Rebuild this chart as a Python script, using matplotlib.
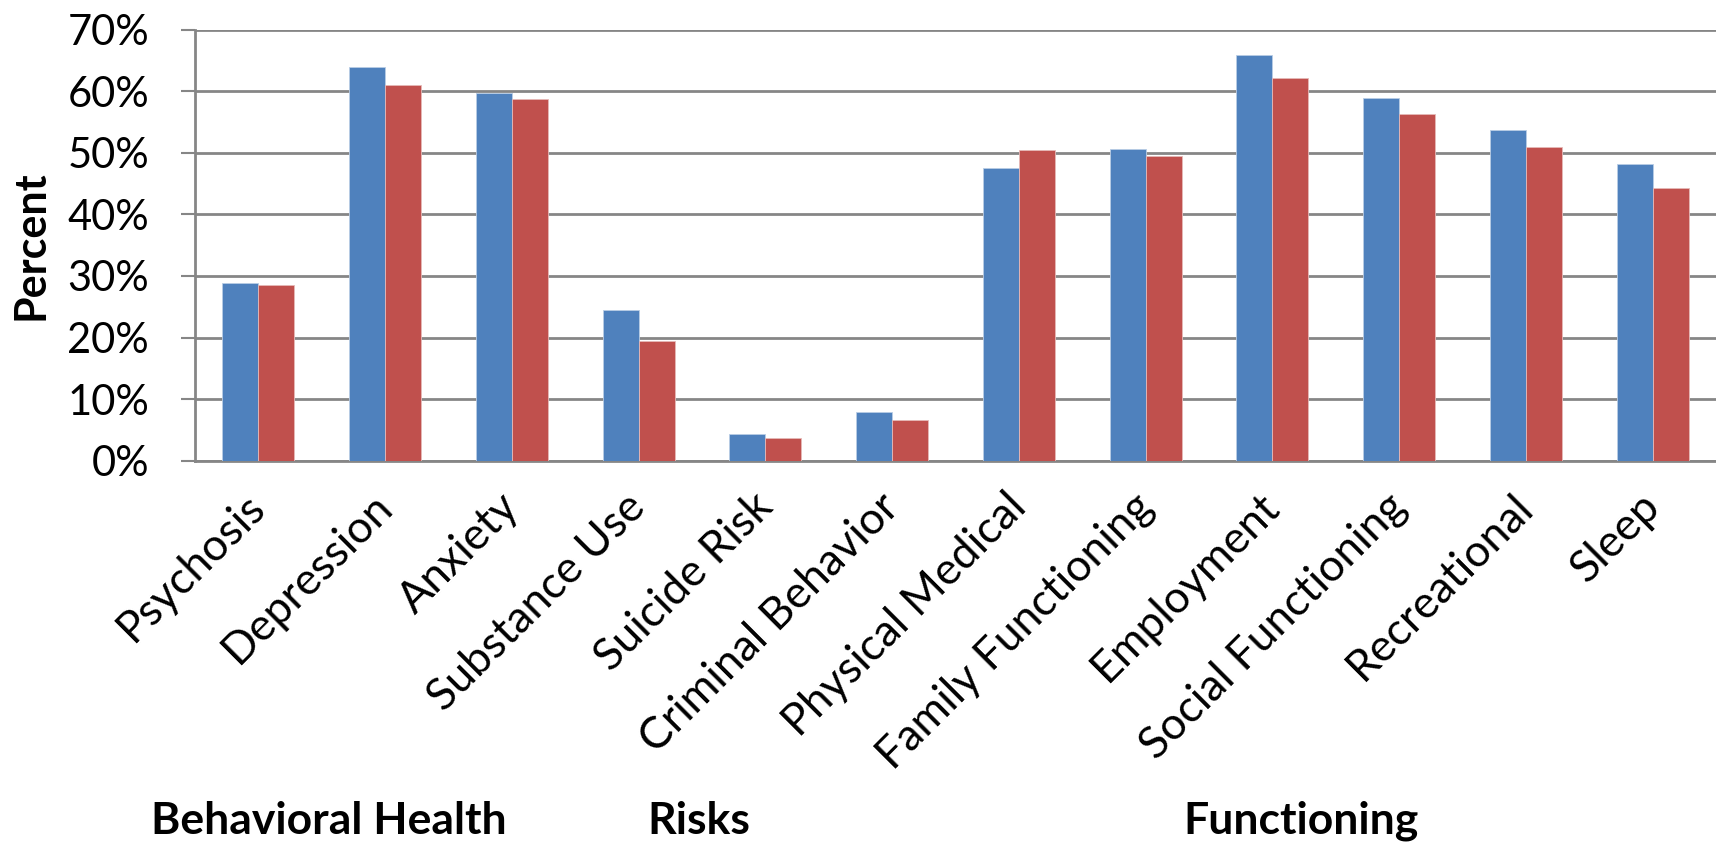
import matplotlib.pyplot as plt
import matplotlib.transforms as mtransforms
import numpy as np

# Share of clients with a problem in each domain, two groups compared
categories = ["Psychosis", "Depression", "Anxiety", "Substance Use", "Suicide Risk",
              "Criminal Behavior", "Physical Medical", "Family Functioning", "Employment",
              "Social Functioning", "Recreational", "Sleep"]
group_a = [28.8, 64.0, 59.7, 24.5, 4.4, 7.9, 47.5, 50.6, 65.9, 58.9, 53.7, 48.2]
group_b = [28.6, 61.0, 58.7, 19.5, 3.7, 6.6, 50.5, 49.4, 62.2, 56.3, 50.9, 44.3]
section_labels = ["Behavioral Health", "Risks", "Functioning"]
y_ticks = [0, 10, 20, 30, 40, 50, 60, 70]

plt.rcParams['font.family'] = ['Lato', 'DejaVu Sans']
grey = "#868686"

fig = plt.figure(figsize=(17.16, 8.44), dpi=100)
ax = fig.add_axes([0.1136, 0.454, 0.8864, 0.511])

x = np.arange(len(categories))
w = 0.284
ax.bar(x - w / 2, group_a, w, color="#4F81BD", edgecolor="#B9CDE5", linewidth=0.6, zorder=3)
ax.bar(x + w / 2, group_b, w, color="#C0504D", edgecolor="#E6B9B8", linewidth=0.6, zorder=3)

ax.set_xlim(-0.5, len(categories) - 0.5)
ax.set_ylim(0, 70)
ax.set_yticks(y_ticks)
ax.set_yticklabels([f"{v}%" for v in y_ticks], fontsize=30)
ax.yaxis.grid(True, color=grey, linewidth=2, zorder=0)
ax.set_axisbelow(True)
ax.tick_params(axis="y", length=10, width=1.5, color=grey, pad=23)

ax.set_xticks(x)
ax.set_xticklabels(categories, fontsize=32, rotation=45, ha="right", va="top",
                   rotation_mode="anchor")
ax.tick_params(axis="x", length=0, pad=18)
# nudge the slanted names a little to the left
shift = mtransforms.ScaledTranslation(-14 / 100, 0, fig.dpi_scale_trans)
for lbl in ax.get_xticklabels():
    lbl.set_transform(lbl.get_transform() + shift)

for side in ["top", "right"]:
    ax.spines[side].set_visible(False)
for side in ["left", "bottom"]:
    ax.spines[side].set_color(grey)
    ax.spines[side].set_linewidth(2)

ax.set_ylabel("Percent", fontsize=31, fontweight="bold", labelpad=12)

# Domain headings under the rotated category names
for label, xpos in zip(section_labels, [0.1917, 0.4073, 0.7582]):
    fig.text(xpos, 0.012, label, fontsize=32, fontweight="bold", ha="center", va="baseline")

fig.savefig("out.png", dpi=100)
